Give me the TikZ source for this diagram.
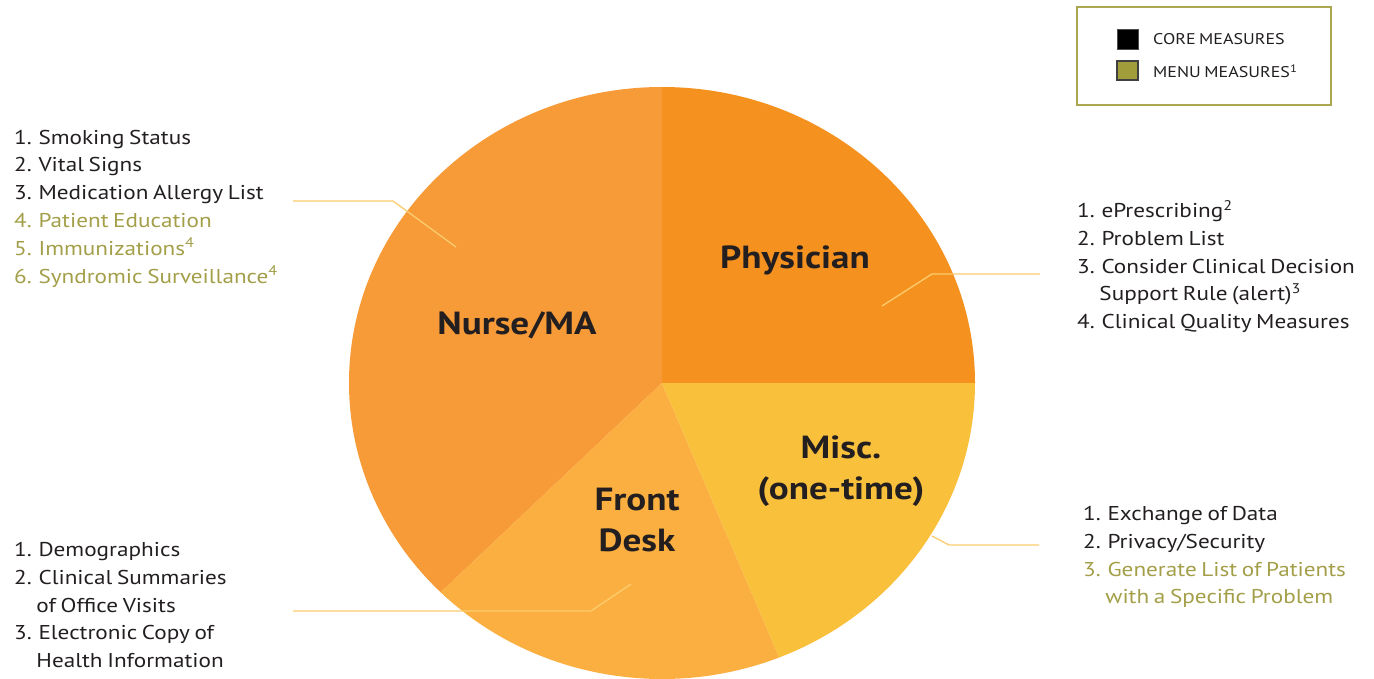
\documentclass[tikz,border=0pt]{standalone}
\usepackage{fontspec}
\setmainfont{PT Sans}[FakeStretch=1.16, WordSpace=0.75]

\definecolor{nursefill}{RGB}{247,154,56}
\definecolor{physfill}{RGB}{245,146,31}
\definecolor{deskfill}{RGB}{251,175,64}
\definecolor{miscfill}{RGB}{249,192,60}
\definecolor{leadercol}{RGB}{252,204,110}
\definecolor{coretext}{RGB}{35,31,32}
\definecolor{menutext}{RGB}{163,158,72}
\definecolor{menubox}{RGB}{160,157,58}
\definecolor{legendframe}{RGB}{172,168,82}

\tikzset{
  listtext/.style={anchor=west, align=left, inner sep=0pt, text=coretext,
    font=\fontsize{20}{27.8}\selectfont},
  roletext/.style={align=center, inner sep=0pt, text=coretext,
    font=\fontsize{32}{41}\selectfont\bfseries},
  legendtext/.style={anchor=west, inner sep=0pt, text=coretext,
    font=\fontsize{15.5}{18}\selectfont},
  leader/.style={draw=leadercol, line width=1.3pt},
}

\newcommand{\menu}[1]{{\color{menutext}#1}}

\begin{document}
\begin{tikzpicture}[x=1pt, y=-1pt]
    \useasboundingbox (0,0) rectangle (1374,679);

    % pie
    \coordinate (ctr) at (662,383);
    \fill[physfill] (ctr) -- ++(0:313 and 296) arc[start angle=0, end angle=-90, x radius=313, y radius=296] -- cycle;
    \fill[nursefill] (ctr) -- ++(-90:313 and 296) arc[start angle=-90, end angle=-225, x radius=313, y radius=296] -- cycle;
    \fill[deskfill] (ctr) -- ++(-225:313 and 296) arc[start angle=-225, end angle=-292, x radius=313, y radius=296] -- cycle;
    \fill[miscfill] (ctr) -- ++(-292:313 and 296) arc[start angle=-292, end angle=-360, x radius=313, y radius=296] -- cycle;

    \node[roletext] (phys) at (795,260) {Physician};
    \node[roletext] (nurse) at (517,325) {Nurse/MA};
    \node[roletext] (desk) at (637,520) {Front\\Desk};
    \node[roletext] (misc) at (841,471) {Misc.\\(one-time)};

    % lists
    \node[listtext] (nurselist) at (14,208.5) {1. Smoking Status\\2. Vital Signs\\3. Medication Allergy List\\
        \menu{4. Patient Education}\\\menu{5. Immunizations\textsuperscript{4}}\\\menu{6. Syndromic Surveillance\textsuperscript{4}}};
    \node[listtext] (desklist) at (14,605) {1. Demographics\\2. Clinical Summaries\\\phantom{2.\ }of Office Visits\\
        3. Electronic Copy of\\\phantom{3.\ }Health Information};
    \node[listtext] (physlist) at (1077,266.5) {1. ePrescribing\textsuperscript{2}\\2. Problem List\\3. Consider Clinical Decision\\
        \phantom{3.\ }Support Rule (alert)\textsuperscript{3}\\4. Clinical Quality Measures};
    \node[listtext] (misclist) at (1083,557) {1. Exchange of Data\\2. Privacy/Security\\
        \menu{3. Generate List of Patients}\\\menu{\phantom{3.\ }with a Specific Problem}};

    % leaders
    \coordinate (n1) at (293,201);
    \coordinate (n2) at (393,201);
    \coordinate (n3) at (456,247);
    \draw[leader] (n1) -- (n2) -- (n3);
    \coordinate (p1) at (1040,274);
    \coordinate (p2) at (932,274);
    \coordinate (p3) at (882,306);
    \draw[leader] (p1) -- (p2) -- (p3);
    \coordinate (m1) at (1039,545);
    \coordinate (m2) at (949,545);
    \coordinate (m3) at (932,536);
    \draw[leader] (m1) -- (m2) -- (m3);
    \coordinate (d1) at (293,611);
    \coordinate (d2) at (591,611);
    \coordinate (d3) at (631,584);
    \draw[leader] (d1) -- (d2) -- (d3);

    % legend
    \draw[legendframe, line width=1.5pt] (1077,7) rectangle (1331,105);
    \filldraw[fill=black, draw=black!70] (1117,29) rectangle (1138,49);
    \filldraw[fill=menubox, draw=black!75, line width=1.2pt] (1117,61) rectangle (1138,80);
    \node[legendtext] (core) at (1153,39) {CORE MEASURES};
    \node[legendtext] (menu) at (1153,71) {MENU MEASURES\textsuperscript{1}};
\end{tikzpicture}
\end{document}
